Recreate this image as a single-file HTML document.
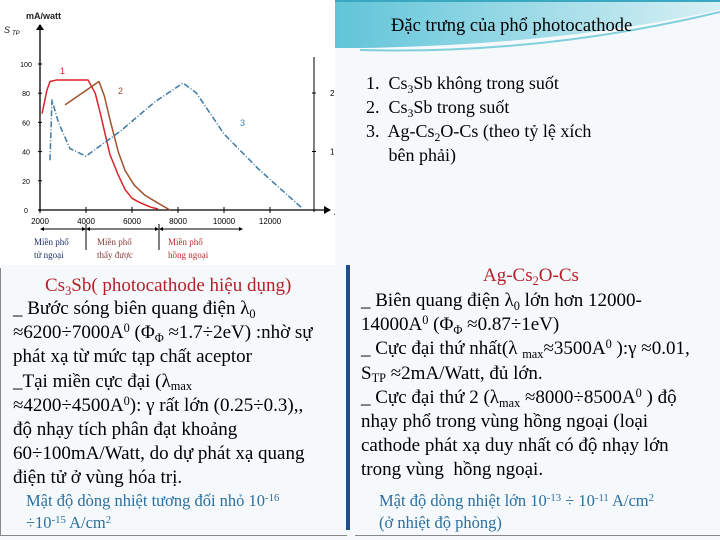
<!DOCTYPE html>
<html><head><meta charset="utf-8"><style>
body{margin:0;width:720px;height:540px;overflow:hidden;background:#f6f9fb;position:relative}
.t{position:absolute;white-space:nowrap;color:#000;font-family:"Liberation Serif","Times New Roman",serif}
sub,sup{font-size:65%;line-height:0;position:relative;vertical-align:baseline}
sub{top:.3em}sup{top:-.5em}
</style></head><body>
<svg width="720" height="70" style="position:absolute;left:0;top:0">
<defs><linearGradient id="g" x1="0" x2="1"><stop offset="0" stop-color="#5fc4d8"/><stop offset="1" stop-color="#d8f0f5"/></linearGradient></defs>
<path d="M330 0 L720 0 L720 10 Q560 45 360 48 L330 48 Z" fill="url(#g)"/>
<path d="M360 50 Q540 55 720 12" stroke="#7fcfdc" stroke-width="2" fill="none"/>
<rect x="0" y="0" width="720" height="2" fill="#3aa8c0"/>
</svg>
<div class="t" style="left:391px;top:16px;font-size:18.5px">Đặc trưng của phổ photocathode</div>
<div class="t" style="left:366px;top:71px;font-size:18px;line-height:24px">
1.&nbsp; Cs<sub>3</sub>Sb không trong suốt<br>2.&nbsp; Cs<sub>3</sub>Sb trong suốt<br>3.&nbsp; Ag-Cs<sub>2</sub>O-Cs (theo tỷ lệ xích<br>&nbsp;&nbsp;&nbsp;&nbsp; bên phải)</div>

<svg id="chart" width="335" height="265" style="position:absolute;left:0;top:0;background:#fff">
</svg>

<div style="position:absolute;left:0;top:268px;width:346px;height:267px;border-left:1px solid #888;border-bottom:1px solid #888"></div>
<div style="position:absolute;left:346px;top:265px;width:4px;height:265px;background:#1f4f8a"></div>
<div style="position:absolute;left:355px;top:535px;width:365px;height:1px;background:#888"></div>

<div class="t" style="left:45px;top:275px;font-size:19px;color:#b5202a">Cs<sub>3</sub>Sb( photocathode hiệu dụng)</div>
<div class="t" style="left:13px;top:297px;font-size:19px;line-height:24.2px">_ Bước sóng biên quang điện λ<sub>0</sub><br>≈6200÷7000A<sup>0</sup> (Φ<sub>Φ</sub> ≈1.7÷2eV) :nhờ sự<br>phát xạ từ mức tạp chất aceptor<br>_Tại miền cực đại (λ<sub>max</sub><br>≈4200÷4500A<sup>0</sup>): γ rất lớn (0.25÷0.3),,<br>độ nhạy tích phân đạt khoảng<br>60÷100mA/Watt, do dự phát xạ quang<br>điện tử ở vùng hóa trị.</div>
<div class="t" style="left:26px;top:490px;font-size:16.5px;line-height:22px;color:#2a6fa0">Mật độ dòng nhiệt tương đối nhỏ 10<sup>-16</sup><br>÷10<sup>-15</sup> A/cm<sup>2</sup></div>

<div class="t" style="left:483px;top:265px;font-size:19px;color:#b5202a">Ag-Cs<sub>2</sub>O-Cs</div>
<div class="t" style="left:361px;top:289px;font-size:19px;line-height:24.2px">_ Biên quang điện λ<sub>0</sub> lớn hơn 12000-<br>14000A<sup>0</sup> (Φ<sub>Φ</sub> ≈0.87÷1eV)<br>_ Cực đại thứ nhất(λ <sub>max</sub>≈3500A<sup>0</sup> ):γ ≈0.01,<br>S<sub>TP</sub> ≈2mA/Watt, đủ lớn.<br>_ Cực đại thứ 2 (λ<sub>max</sub> ≈8000÷8500A<sup>0</sup> ) độ<br>nhạy phổ trong vùng hồng ngoại (loại<br>cathode phát xạ duy nhất có độ nhạy lớn<br>trong vùng&nbsp; hồng ngoại.</div>
<div class="t" style="left:379px;top:490px;font-size:16.5px;line-height:22px;color:#2a6fa0">Mật độ dòng nhiệt lớn 10<sup>-13</sup> ÷ 10<sup>-11</sup> A/cm<sup>2</sup><br>(ở nhiệt độ phòng)</div>

<script>
const xTicks=[2000,4000,6000,8000,10000,12000];
const yTicks=[0,20,40,60,80,100];
const rTicks=[1,2];
const c1L=[2090,2300,2435,2700,3500,4090,4400,4610,5040,5400,5700,6000,6350,6800,7130];
const c1V=[66,82,88,89,89,89,80,67,38,24,14,8,5,2,0.7];
const c2L=[3090,4565,4800,5040,5400,5700,6100,6570,7100,7650];
const c2V=[72,88,78,62,40,27,17,10,5,0];
const c3L=[2435,2520,2800,3300,4000,5500,7000,8220,8800,10000,11500,13400];
const c3V=[0.85,1.88,1.5,1.05,0.92,1.35,1.85,2.17,2.0,1.3,0.7,0.03];
const X=l=>40+(l-2000)/2000*46, Y=v=>210-v*1.46, R=v=>210-v*58.5;
const svg=document.getElementById('chart'),NS='http://www.w3.org/2000/svg';
function mk(t,a,txt){const e=document.createElementNS(NS,t);for(const k in a)e.setAttribute(k,a[k]);if(txt!=null)e.textContent=txt;svg.appendChild(e);return e;}
let e;
e=mk('line',{x1:40,y1:212,x2:40,y2:26,stroke:'#000','stroke-width':1.3});
e=mk('line',{x1:38,y1:210,x2:330,y2:210,stroke:'#000','stroke-width':1.3});
e=mk('line',{x1:314,y1:57,x2:314,y2:212,stroke:'#000','stroke-width':1});
mk('path',{d:'M36 30 L40 24 L44 30 Z M324 206 L331 210 L324 214 Z',fill:'#000'});
xTicks.forEach(t=>{e=mk('text',{x:X(t),y:224,'text-anchor':'middle','font-size':8,'font-family':'Liberation Sans'},t);mk('line',{x1:X(t),x2:X(t),y1:207,y2:213,stroke:'#000'});});
yTicks.forEach(t=>{e=mk('text',{x:26,y:Y(t)+3,'text-anchor':'middle','font-size':7,'font-family':'Liberation Sans'},t);mk('line',{x1:38,x2:42,y1:Y(t),y2:Y(t),stroke:'#000'});});
rTicks.forEach(t=>{e=mk('text',{x:330,y:R(t)+3,'font-size':8,'font-family':'Liberation Sans'},t);mk('line',{x1:312,x2:316,y1:R(t),y2:R(t),stroke:'#000'});});
function line(L,V,f,col,name,dash){e=mk('polyline',{points:L.map((l,i)=>X(l)+','+f(V[i])).join(' '),fill:'none',stroke:col,'stroke-width':1.5,'stroke-linejoin':'round'});if(dash)e.setAttribute('stroke-dasharray',dash);}
line(c1L,c1V,Y,'#d8232a','curve-1');
line(c2L,c2V,Y,'#a0522d','curve-2');
line(c3L,c3V,R,'#3d7aa6','curve-3','6 2 1 2');
[['mA/watt',26,19,9,'#222','y-unit'],['S',4,33,9,'#222','y-title'],['1',60,74,9,'#d8232a','label-1'],['2',118,94,9,'#a0522d','label-2'],['3',240,126,9,'#3d7aa6','label-3'],['λ(A⁰)',334,215,8,'#222','x-title']].forEach(a=>{e=mk('text',{x:a[1],y:a[2],'font-size':a[3],fill:a[4],'font-family':'Liberation Sans','font-weight':a[5]=='y-unit'?'bold':'normal','font-style':a[5]=='y-title'?'italic':'normal'},a[0]);});
mk('text',{x:12,y:35,'font-size':6,'font-style':'italic','font-family':'Liberation Sans'},'TP');
[[40,86],[86,159],[159,243]].forEach(s=>{mk('line',{x1:s[0]+2,x2:s[1]-2,y1:229,y2:229,stroke:'#000'});mk('path',{d:`M${s[0]} 229 l4 -2 v4Z M${s[1]} 229 l-4 -2 v4Z`,fill:'#000'});});
mk('line',{x1:86,x2:86,y1:224,y2:250,stroke:'#000'});mk('line',{x1:159,x2:159,y1:224,y2:250,stroke:'#000'});
[['Miền phổ',34,245,'#1a2f6a'],['tử ngoại',34,258,'#1a2f6a'],['Miền phổ',97,245,'#8b3a3a'],['thấy được',97,258,'#8b3a3a'],['Miền phổ',168,245,'#c0282d'],['hồng ngoại',168,258,'#c0282d']].forEach(a=>{e=mk('text',{x:a[1],y:a[2],'font-size':9,fill:a[3],'font-family':'Liberation Serif'},a[0]);});
</script>
</body></html>
